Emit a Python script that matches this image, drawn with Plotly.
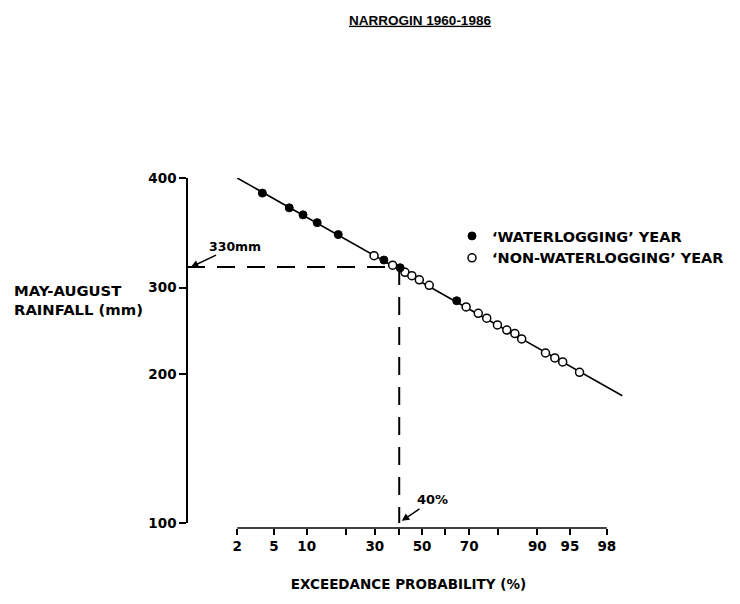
from statistics import NormalDist
import math
import plotly.graph_objects as go

# ---------------- data ----------------
# exceedance probability (%) and May-August rainfall (mm)
wl_prob = [3.8, 7.0, 9.3, 12.2, 17.6, 33.6, 40.4, 65.0]
wl_rain = [466, 435, 421, 406, 384, 341, 329, 282]

nwl_prob = [29.7, 37.2, 42.5, 45.5, 48.8, 53.2, 68.8, 73.4, 76.4, 79.9,
            82.7, 84.9, 86.6, 91.5, 93.0, 94.1, 96.0]
nwl_rain = [348, 333, 322, 317, 311, 303, 274, 266, 260, 252,
            246, 242, 236, 221, 216, 212, 202]

fit_prob = [2.0, 98.7]
fit_rain = [500, 181]

design_prob = 40.0
design_rain = 330

x_tick_prob = [2, 5, 10, 20, 30, 40, 50, 60, 70, 80, 90, 95, 98]
x_tick_text = ["2", "5", "10", "", "30", "", "50", "", "70", "", "90", "95", "98"]

# The original log axis labels its top tick "400" although it sits at the
# log position of 500 mm; the labels are reproduced as printed.
y_tick_vals = [100, 200, 300, 500]
y_tick_text = ["100", "200", "300", "400"]

# ---------------- normal-probability x scale ----------------
ND = NormalDist()


def zp(p):
    return ND.inv_cdf(p / 100.0)


def zlist(ps):
    return [zp(p) for p in ps]


FONT = "DejaVu Sans"
BLACK = "black"

# plot area in figure pixels
L, R, T, B = 179, 622, 170, 520
W, H = R - L, B - T

fig = go.Figure()

# fitted line
fig.add_trace(go.Scatter(
    x=zlist(fit_prob), y=fit_rain, mode="lines",
    line=dict(color=BLACK, width=1.6), showlegend=False, hoverinfo="skip"))

# design value dashed guides
fig.add_trace(go.Scatter(
    x=zlist([0.45, design_prob]), y=[design_rain, design_rain], mode="lines",
    line=dict(color=BLACK, width=2, dash="18px,12px"), showlegend=False,
    hoverinfo="skip"))
fig.add_trace(go.Scatter(
    x=zlist([design_prob, design_prob]), y=[design_rain, 100], mode="lines",
    line=dict(color=BLACK, width=2, dash="18px,12px"), showlegend=False,
    hoverinfo="skip"))

# points
fig.add_trace(go.Scatter(
    x=zlist(nwl_prob), y=nwl_rain, mode="markers",
    name="\u2018NON-WATERLOGGING\u2019 YEAR",
    marker=dict(symbol="circle", size=8, color="white",
                line=dict(color=BLACK, width=1.5))))
fig.add_trace(go.Scatter(
    x=zlist(wl_prob), y=wl_rain, mode="markers",
    name="\u2018WATERLOGGING\u2019 YEAR",
    marker=dict(symbol="circle", size=8, color=BLACK,
                line=dict(color=BLACK, width=1))))

fig.update_layout(
    width=740, height=604,
    margin=dict(l=L, r=740 - R, t=T, b=604 - B),
    plot_bgcolor="white", paper_bgcolor="white",
    font=dict(family=FONT, color=BLACK, size=13, weight="bold"),
    title=dict(text="NARROGIN 1960-1986", x=412 / 740, xanchor="center",
               y=1 - 12 / 604, yanchor="middle",
               font=dict(family="Liberation Sans", size=13.5, color=BLACK,
                         weight="bold", lineposition="under")),
    legend=dict(x=(444 - L) / W, y=(B - 212) / H,
                xanchor="left", yanchor="top", traceorder="reversed",
                font=dict(family=FONT, size=14.5, color=BLACK, weight="bold"),
                bgcolor="rgba(0,0,0,0)", itemwidth=30),
    xaxis=dict(
        type="linear", range=[zp(0.45), zp(98.96)], domain=[0, 1],
        anchor="free", position=0,
        showline=False, zeroline=False, showgrid=False,
        tickmode="array", tickvals=zlist(x_tick_prob), ticktext=x_tick_text,
        ticks="outside", ticklen=6, tickwidth=1.5, tickcolor=BLACK,
        tickfont=dict(family=FONT, size=13.5, color=BLACK, weight="bold"),
        title=dict(text="EXCEEDANCE PROBABILITY (%)", standoff=26,
                   font=dict(family=FONT, size=13.5, color=BLACK,
                             weight="bold")),
    ),
    yaxis=dict(
        type="log", range=[2, math.log10(500)], domain=[5 / H, 1],
        anchor="free", position=0,
        showline=True, linecolor=BLACK, linewidth=1.5,
        zeroline=False, showgrid=False,
        tickmode="array", tickvals=y_tick_vals, ticktext=y_tick_text,
        ticks="outside", ticklen=7, tickwidth=1.5, tickcolor=BLACK,
        tickfont=dict(family=FONT, size=13.5, color=BLACK, weight="bold"),
    ),
    shapes=[dict(type="line", xref="x", yref="paper",
                 x0=zp(x_tick_prob[0]), x1=zp(x_tick_prob[-1]), y0=0, y1=0,
                 line=dict(color=BLACK, width=1.5))],
    annotations=[
        dict(text="MAY-AUGUST<br>RAINFALL (mm)", xref="paper", yref="paper",
             x=(4 - L) / W, y=(B - 291.5) / H,
             xanchor="left", yanchor="middle", align="left", showarrow=False,
             font=dict(family=FONT, size=14.8, color=BLACK, weight="bold")),
        dict(text="330mm", x=zp(0.51), y=math.log10(design_rain),
             xref="x", yref="y", showarrow=True, arrowhead=2, arrowsize=1,
             arrowwidth=1.5, arrowcolor=BLACK, ax=44, ay=-21, standoff=0,
             font=dict(family=FONT, size=12.5, color=BLACK, weight="bold")),
        dict(text="40%", x=zp(41.1), y=math.log10(101),
             xref="x", yref="y", showarrow=True, arrowhead=2, arrowsize=1,
             arrowwidth=1.5, arrowcolor=BLACK, ax=31, ay=-21, standoff=0,
             font=dict(family=FONT, size=13, color=BLACK, weight="bold")),
    ],
)

fig.write_html("out.html")
